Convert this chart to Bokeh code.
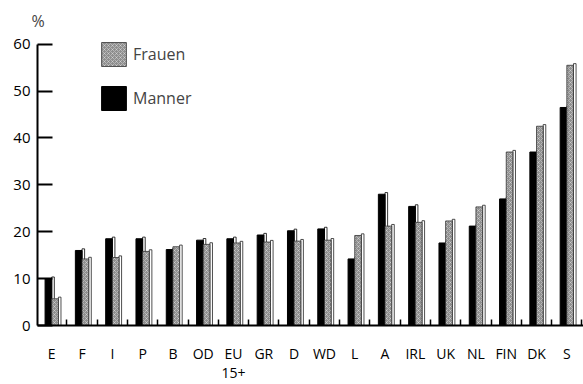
from bokeh.plotting import figure
from bokeh.models import (ColumnDataSource, FixedTicker, Legend, LegendItem, Range1d)
from bokeh.embed import file_html
from bokeh.resources import INLINE

# ---- data ----
countries = ["E", "F", "I", "P", "B", "OD", "EU\n15+", "GR", "D", "WD", "L", "A",
             "IRL", "UK", "NL", "FIN", "DK", "S"]
maenner = [10, 16, 18.5, 18.5, 16.2, 18.2, 18.5, 19.3, 20.2, 20.6, 14.2, 28.0,
           25.4, 17.6, 21.2, 27.0, 37.0, 46.5]
frauen = [5.7, 14.2, 14.5, 15.8, 16.8, 17.3, 17.6, 17.8, 18.0, 18.2, 19.2, 21.2,
          22.0, 22.3, 25.3, 37.0, 42.5, 55.5]
y_ticks = [0, 10, 20, 30, 40, 50, 60]

FONT = "Open Sans"
n = len(countries)
idx = list(range(n))
bw = 0.22
off = 0.11
side = 0.085

src = ColumnDataSource(dict(
    xm=[i - off for i in idx], xf=[i + off for i in idx],
    m=maenner, f=frauen,
    m_sl=[i - off + bw / 2 for i in idx], m_sr=[i - off + bw / 2 + side for i in idx],
    f_sl=[i + off + bw / 2 for i in idx], f_sr=[i + off + bw / 2 + side for i in idx],
    m_top=[v + 0.35 for v in maenner], f_top=[v + 0.35 for v in frauen],
))

p = figure(width=583, height=384, output_backend="svg", toolbar_location=None,
           x_range=Range1d(-0.47, 17.55), y_range=Range1d(0, 61),
           min_border_left=37, min_border_right=0, min_border_top=38, min_border_bottom=58)
p.outline_line_color = None
p.xgrid.visible = False
p.ygrid.visible = False
p.background_fill_color = "white"
p.border_fill_color = "white"

p.title.text = "%"
p.title.align = "left"
p.title.offset = -6
p.title.standoff = 15
p.title.text_font = FONT
p.title.text_font_size = "16px"
p.title.text_font_style = "normal"

# 3D side faces
p.quad(left="m_sl", right="m_sr", bottom=0, top="m_top", source=src,
       fill_color="white", line_color="black", line_width=0.8)
rm = p.vbar(x="xm", top="m", width=bw, source=src, fill_color="black", line_color="black")
p.quad(left="f_sl", right="f_sr", bottom=0, top="f_top", source=src,
       fill_color="white", line_color="#222222", line_width=0.8)
rf = p.vbar(x="xf", top="f", width=bw, source=src, fill_color="#8e8e8e",
            line_color="#333333", line_width=0.8,
            hatch_pattern="x", hatch_color="white", hatch_scale=4, hatch_weight=0.6,
            hatch_alpha=0.6)

# axes
ya = p.yaxis[0]
ya.ticker = FixedTicker(ticks=y_ticks, minor_ticks=[])
ya.bounds = (0, 60)
ya.axis_line_width = 2
ya.major_tick_in = 15
ya.major_tick_out = 0
ya.major_tick_line_width = 2
ya.minor_tick_line_color = None
ya.major_label_text_font = FONT
ya.major_label_text_font_size = "15px"
ya.major_label_text_color = "black"
ya.major_label_standoff = 7

xa = p.xaxis[0]
xa.ticker = FixedTicker(ticks=idx, minor_ticks=[i + 0.5 for i in range(-1, n)])
xa.major_label_overrides = {i: c for i, c in enumerate(countries)}
xa.axis_line_width = 2
xa.major_tick_line_color = None
xa.minor_tick_in = 6
xa.minor_tick_out = 0
xa.minor_tick_line_width = 1.5
xa.major_label_text_font = FONT
xa.major_label_text_font_size = "14px"
xa.major_label_text_color = "black"
xa.major_label_text_line_height = 1.0
xa.major_label_standoff = 12

# legend
legend = Legend(items=[LegendItem(label="Frauen", renderers=[rf]),
                       LegendItem(label="Manner", renderers=[rm])],
                location=(61, 212), glyph_width=31, glyph_height=30, spacing=14,
                padding=0, margin=0, label_standoff=4,
                label_text_font=FONT, label_text_font_size="16px",
                border_line_color=None, background_fill_alpha=0)
p.add_layout(legend)

open("out.html", "w").write(file_html(p, INLINE))
